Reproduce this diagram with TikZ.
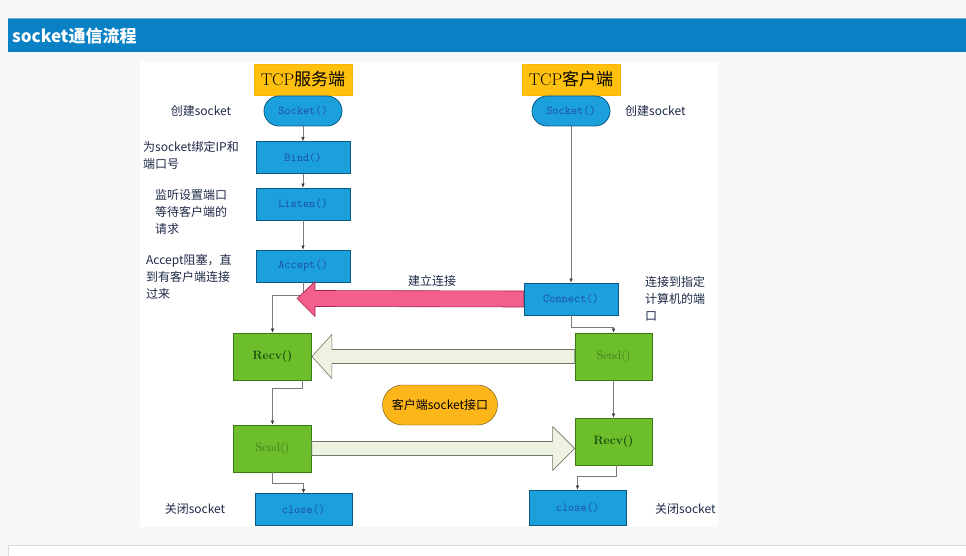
\documentclass[tikz,border=0pt]{standalone}
\usepackage{fontspec}
\newfontfamily\cjk{Noto Sans CJK SC}
\usetikzlibrary{arrows.meta,positioning,calc}
\definecolor{pagebg}{HTML}{F7F7F7}
\definecolor{barblue}{HTML}{0A80C5}
\definecolor{boxblue}{HTML}{1CA0DC}
\definecolor{boxline}{HTML}{0B5A86}
\definecolor{apitext}{HTML}{1F4CA6}
\definecolor{iogreen}{HTML}{6CBF2B}
\definecolor{ioline}{HTML}{3C7A1A}
\definecolor{iotext}{HTML}{1B4A10}
\definecolor{tagyellow}{HTML}{FFC10E}
\definecolor{ifaceorange}{HTML}{FDB61A}
\definecolor{fatpink}{HTML}{F35E8D}
\definecolor{pinkline}{HTML}{A3244C}
\definecolor{palegreen}{HTML}{EEF3E1}
\definecolor{paleline}{HTML}{6E7864}
\definecolor{notetext}{HTML}{1E2A48}
\definecolor{linkgray}{HTML}{7A7A7A}
\tikzset{
  apibox/.style={draw=boxline, fill=boxblue, line width=0.8pt, inner sep=0pt,
    font=\ttfamily\fontsize{12}{14}\selectfont, text=apitext,
    minimum width=94pt, minimum height=32pt},
  sockbox/.style={apibox, rounded corners=15pt, minimum width=78pt, minimum height=30pt},
  iobox/.style={draw=ioline, fill=iogreen, line width=0.8pt, inner sep=0pt,
    font=\rmfamily\fontsize{12}{14}\selectfont, text=iotext,
    minimum width=78pt, minimum height=47pt},
  sidetag/.style={fill=tagyellow, draw=tagyellow!80!orange, inner sep=0pt,
    minimum width=98pt, minimum height=31pt, font=\fontsize{17}{19}\selectfont},
  note/.style={font=\cjk\fontsize{12}{17}\selectfont, text=notetext, align=left, inner sep=0pt},
  link/.style={draw=linkgray, line width=0.5pt, -{Latex[length=4pt,width=3.5pt,color=black!80]}},
  pinkfat/.style={fill=fatpink, draw=pinkline, line width=0.6pt, line join=round},
  palefat/.style={fill=palegreen, draw=paleline, line width=0.6pt, line join=round},
}
\begin{document}
\begin{tikzpicture}[x=1pt, y=-1pt]
\useasboundingbox (0,0) rectangle (966,556);
\fill[pagebg] (0,0) rectangle (966,556);

% header bar and panels
\fill[barblue] (8,18) rectangle (966,52);
\draw[barblue!60!white, line width=0.8pt] (8,18.5) -- (966,18.5);
\node[anchor=west, text=white, font=\cjk\bfseries\fontsize{17}{19}\selectfont, inner sep=0pt] (title) at (12,36) {socket通信流程};
\fill[white] (140,62) rectangle (718,527);
\draw[black!15, fill=white] (8,545) rectangle (970,560);

% server side
\node[sidetag] (srvtag) at (303,79.5) {TCP{\cjk 服务端}};
\node[sockbox] (srvsock) at (303,111) {Socket()};
\node[apibox] (bind) at (303,157.5) {Bind()};
\node[apibox] (listen) at (303,204) {Listen()};
\node[apibox] (acc) at (303,266) {Accept()};
\node[iobox, font=\rmfamily\bfseries\fontsize{12}{14}\selectfont] (recv1) at (272.5,356.5) {Recv()};
\node[iobox, text=iotext!60!iogreen] (send1) at (272.5,448.5) {Send()};
\node[apibox, minimum width=97pt] (close1) at (303.5,509.5) {close()};

% client side
\node[sidetag] (clitag) at (571,79.5) {TCP{\cjk 客户端}};
\node[sockbox] (clisock) at (571,111) {Socket()};
\node[apibox] (conn) at (571,299) {Connect()};
\node[iobox, text=iotext!60!iogreen, minimum width=77pt] (send2) at (613.5,356.5) {Send()};
\node[iobox, font=\rmfamily\bfseries\fontsize{12}{14}\selectfont, minimum width=77pt] (recv2) at (613.5,441.5) {Recv()};
\node[apibox, minimum width=97pt, minimum height=35pt] (close2) at (577.5,507.5) {close()};

\node[draw=black!60!ifaceorange, fill=ifaceorange, rounded corners=20pt, minimum width=115pt,
  minimum height=40pt, inner sep=0pt, font=\cjk\fontsize{12}{14}\selectfont] (iface) at (440,405) {客户端socket接口};

% notes
\node[note] (n1) at (201,111) {创建socket};
\node[note, anchor=west] (n2) at (143,155) {为socket绑定IP和\\端口号};
\node[note, anchor=west] (n3) at (155,212) {监听设置端口\\等待客户端的\\请求};
\node[note, anchor=west] (n4) at (146,277) {Accept阻塞，直\\到有客户端连接\\过来};
\node[note] (n5) at (432,281) {建立连接};
\node[note, anchor=west] (n6) at (625,111) {创建socket};
\node[note, anchor=west] (n7) at (645,299) {连接到指定\\计算机的端\\口};
\node[note] (n8) at (195,509) {关闭socket};
\node[note, anchor=west] (n9) at (655,509) {关闭socket};

% thin links
\draw[link] (srvsock) -- (bind);
\draw[link] (bind) -- (listen);
\draw[link] (listen) -- (acc);
\draw[link] (acc.south) -- ++(0,13) -| (recv1.north);
\draw[link] ($(recv1.south)+(30,0)$) -- ++(0,8) -| (send1.north);
\draw[link] (send1.south) -- ++(0,11) -| (close1.north);
\draw[link] (clisock) -- (conn);
\draw[link] (conn.south) -- ++(0,12) -| (send2.north);
\draw[link] (send2) -- (recv2);
\draw[link] ($(recv2.south)+(3,0)$) -- ++(0,11) -| (close2.north);

% fat arrows
\coordinate (ptip) at (297,298.5);
\draw[pinkfat] ($(conn.west)+(0,-8)$) -- ($(ptip)+(18,-8)$) -- ($(ptip)+(18,-17)$) -- (ptip)
  -- ($(ptip)+(18,18)$) -- ($(ptip)+(18,8)$) -- ($(conn.west)+(0,8)$) -- cycle;
\draw[palefat] ($(send2.west)+(0,-7)$) -- ($(recv1.east)+(20,-7)$) -- ($(recv1.east)+(20,-22)$) -- (recv1.east)
  -- ($(recv1.east)+(20,22)$) -- ($(recv1.east)+(20,7)$) -- ($(send2.west)+(0,7)$) -- cycle;
\coordinate (rtip) at (send1.east -| recv2.west);
\draw[palefat] ($(send1.east)+(0,-7)$) -- ($(rtip)+(-22,-7)$) -- ($(rtip)+(-22,-22)$) -- (rtip)
  -- ($(rtip)+(-22,22)$) -- ($(rtip)+(-22,7)$) -- ($(send1.east)+(0,7)$) -- cycle;

\end{tikzpicture}
\end{document}
